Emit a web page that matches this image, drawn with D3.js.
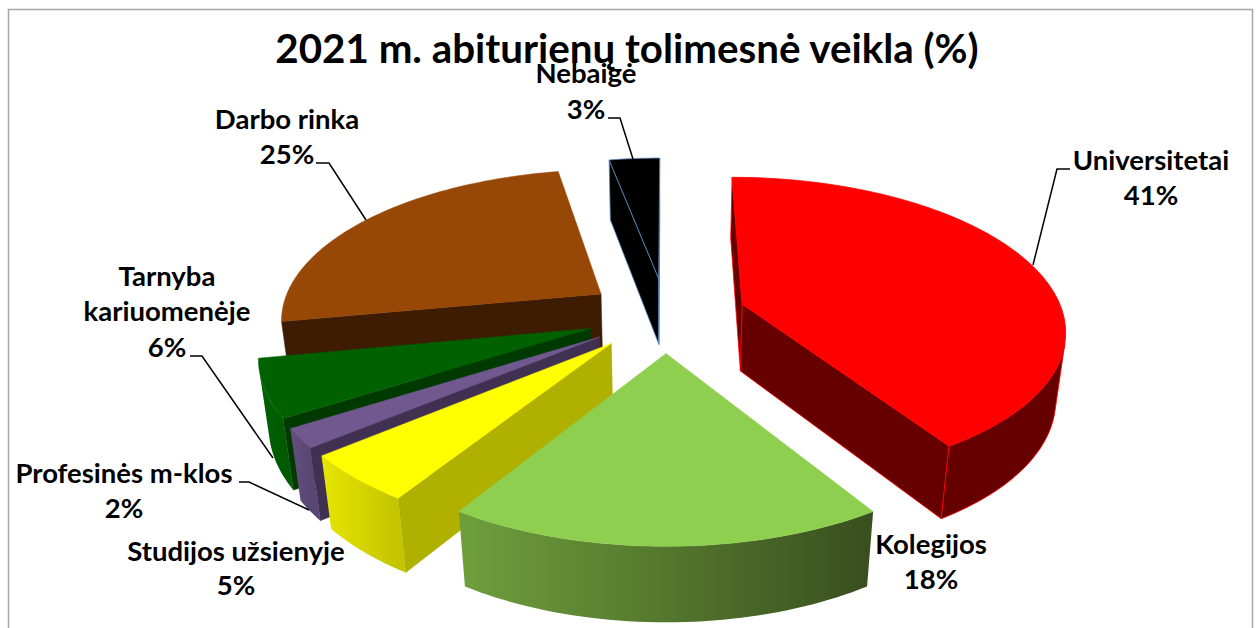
<!DOCTYPE html>
<html><head><meta charset="utf-8">
<style>html,body{margin:0;padding:0;background:#fff}svg{display:block}text{font-family:Lato,"Liberation Sans",sans-serif;font-weight:700;fill:#000}</style>
<script src="https://cdn.jsdelivr.net/npm/d3@7"></script>
</head><body><svg id="c" width="1258" height="628"></svg>
<script>
const categories=["Universitetai","Kolegijos","Studijos užsienyje","Profesinės m-klos","Tarnyba kariuomenėje","Darbo rinka","Nebaigė"];
const values=[41,18,5,2,6,25,3];
const titleText="2021 m. abiturienų tolimesnė veikla (%)";
const topColors=["#ff0000","#8fcf50","#ffff00","#71588f","#006100","#974706","#000000"];
const radialColors=["#660000","#5f8532","#b0b000","#403152","#003a00","#3d1c03","#000000"];
const wallLeft=["#660000","#6f9f3c","#e6e600","#64507f","#006100","#3d1c03","#000000"];
const wallRight=["#660000","#384f1e","#c4c400","#5a4673","#005a00","#3d1c03","#000000"];
const edgeColors=["#ff0000",null,null,null,null,null,"#5b8bc0"];
const paintOrder=[6,5,0,4,3,2,1];
const labelLines=[["Universitetai","41%"],["Kolegijos","18%"],["Studijos užsienyje","5%"],["Profesinės m-klos","2%"],["Tarnyba","kariuomenėje","6%"],["Darbo rinka","25%"],["Nebaigė","3%"]];

// layout
const W=1258,H=628,vx=666,vy=314.5,explode=0.25,persp=0.155,depthPersp=0.025,sliceH=1;
const sx=d3.scaleLinear([0,1],[0,321]),sy=d3.scaleLinear([0,1],[0,149.5]),sz=d3.scaleLinear([0,1],[0,69]);
const project=(X,Y,Z)=>{const w=1+persp*Y+depthPersp*Z;return [vx+sx(X)/w,vy-(sy(Y)-sz(Z))/w];};
const area=p=>-d3.polygonArea(p);// signed; positive = clockwise on screen (y down)

const labelAt=[[1151,170,205],[931,554,589],[236,561,595],[124,483,518],[167,286,321,357],[287,129,164],[586,83,119]];
const leaders=[[[1070,169],[1057,169],[1033,265]],[],[],[[239,482],[249,482],[309,510]],[[190,356],[202,356],[273,458]],[[316,163],[329,163],[366,220]],[[608,118],[620,118],[633,159]]];

const svg=d3.select("#c");
const defs=svg.append("defs");
const line=d3.line();
const pie=d3.pie().sort(null).startAngle(0).endAngle(2*Math.PI)(values);
const stepsPerRad=40;

// frame
svg.append("path").attr("d",line([[8.5,628],[8.5,9.5],[1252.5,9.5],[1252.5,628]])).attr("fill","none").attr("stroke","#a6a6a6").attr("stroke-width",1.5);

paintOrder.forEach(i=>{
  const d=pie[i],a0=d.startAngle,a1=d.endAngle,mid=(a0+a1)/2;
  const ox=explode*Math.sin(mid),oy=explode*Math.cos(mid);
  const rim=(t,z)=>project(ox+Math.sin(t),oy+Math.cos(t),z);
  const apexT=project(ox,oy,0),apexB=project(ox,oy,sliceH);
  const n=Math.max(4,Math.ceil((a1-a0)*stepsPerRad));
  const ts=d3.range(n+1).map(k=>a0+(a1-a0)*k/n);
  const g=svg.append("g").attr("class","slice").attr("data-cat",categories[i]);
  const edge=edgeColors[i];
  const xsT=ts.map(t=>rim(t,0)[0]);
  const gid="wall"+i;
  const lg=defs.append("linearGradient").attr("id",gid).attr("gradientUnits","userSpaceOnUse")
    .attr("x1",d3.min(xsT)).attr("x2",d3.max(xsT)).attr("y1",0).attr("y2",0);
  lg.append("stop").attr("offset",0).attr("stop-color",wallLeft[i]);
  lg.append("stop").attr("offset",1).attr("stop-color",wallRight[i]);
  // radial faces
  [[a0,-1],[a1,1]].forEach(([t,s])=>{
    const q=[apexT,rim(t,0),rim(t,sliceH),apexB];
    if(area(q)*s>0) g.append("path").attr("d",line(q)+"Z").attr("fill",radialColors[i])
      .attr("stroke",edge||radialColors[i]).attr("stroke-width",edge?0.8:0.5);
  });
  // outer wall: only the segments that face the viewer
  const vis=[];
  for(let k=0;k<n;k++){
    const q=[rim(ts[k],0),rim(ts[k+1],0),rim(ts[k+1],sliceH),rim(ts[k],sliceH)];
    if(area(q)<0){vis.push(ts[k]);vis.push(ts[k+1]);}
  }
  if(vis.length){
    const lo=d3.min(vis),hi=d3.max(vis);
    const tv=ts.filter(t=>t>=lo-1e-9&&t<=hi+1e-9);
    const poly=tv.map(t=>rim(t,0)).concat(tv.slice().reverse().map(t=>rim(t,sliceH)));
    g.append("path").attr("d",line(poly)+"Z").attr("fill",`url(#${gid})`)
      .attr("stroke",edge||"none").attr("stroke-width",edge?0.8:0);
  }
  // top face
  const top=[apexT].concat(ts.map(t=>rim(t,0)));
  g.append("path").attr("d",line(top)+"Z").attr("fill",topColors[i])
    .attr("stroke",edge||topColors[i]).attr("stroke-width",edge?0.8:0.5);
});

// leaders
leaders.forEach(l=>{ if(l.length) svg.append("path").attr("d",line(l)).attr("fill","none").attr("stroke","#000").attr("stroke-width",1.5);});

// labels
labelLines.forEach((ls,i)=>{
  const p=labelAt[i];
  ls.forEach((s,k)=>svg.append("text").attr("x",p[0]).attr("y",p[k+1]).attr("text-anchor","middle").attr("font-size",27.5).text(s));
});
svg.append("text").attr("x",627).attr("y",63).attr("text-anchor","middle").attr("font-size",40.3).text(titleText);
</script></body></html>
